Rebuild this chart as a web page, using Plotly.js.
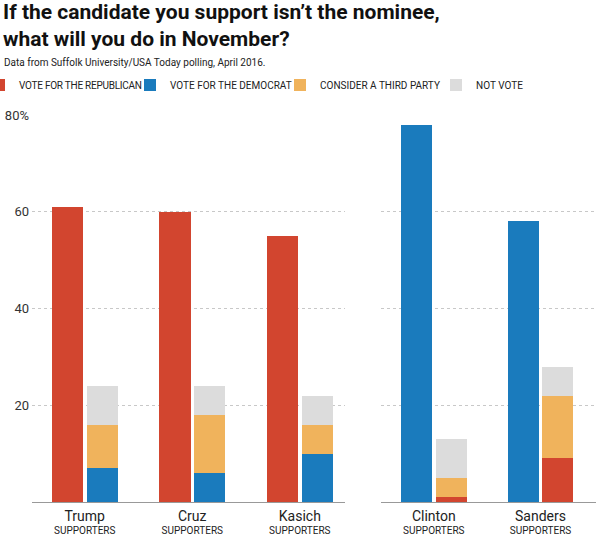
<!DOCTYPE html>
<html>
<head>
<meta charset="utf-8">
<script src="https://cdn.plot.ly/plotly-3.0.1.min.js"></script>
<style>
html,body{margin:0;padding:0;background:#fff}
#chart{width:600px;height:537px}
#chart .legendtext{letter-spacing:-0.25px}
</style>
</head>
<body>
<div id="chart"></div>
<script>
// Republican candidates' supporters
const repCandidates = ["Trump", "Cruz", "Kasich"];
const repVoteRepublican = [61, 60, 55];
const repVoteDemocrat = [7, 6, 10];
const repThirdParty = [9, 12, 6];
const repNotVote = [8, 6, 6];

// Democratic candidates' supporters
const demCandidates = ["Clinton", "Sanders"];
const demVoteDemocrat = [78, 58];
const demVoteRepublican = [1, 9];
const demThirdParty = [4, 13];
const demNotVote = [8, 6];

const yTicks = [20, 40, 60, 80];
const yTickLabels = ["20", "40", "60", "80%"];

const RED = "#d2452f", BLUE = "#1a7bbd", ORANGE = "#f0b35c", GRAY = "#dcdcdc";
const W = 0.29;          // bar width in category units
const OFF_BIG = -0.305;  // offset of own-party bar
const OFF_STACK = 0.017; // offset of stacked bar

function add(a, b) { return a.map((v, i) => v + b[i]); }

const traces = [];
function bar(x, y, base, off, color, name, xa, ya, show, leg) {
  traces.push({
    type: "bar", x: x, y: y, base: base, offset: off, width: W,
    marker: {color: color, line: {width: 0}},
    name: name, legendgroup: name, showlegend: show, legend: leg,
    xaxis: xa, yaxis: ya, hoverinfo: "y+name"
  });
}
const zeros3 = repCandidates.map(() => 0);
const zeros2 = demCandidates.map(() => 0);

bar(repCandidates, repVoteRepublican, zeros3, OFF_BIG, RED, "VOTE FOR THE REPUBLICAN", "x", "y", true, "legend");
bar(repCandidates, repVoteDemocrat, zeros3, OFF_STACK, BLUE, "VOTE FOR THE DEMOCRAT", "x", "y", true, "legend2");
bar(repCandidates, repThirdParty, repVoteDemocrat, OFF_STACK, ORANGE, "CONSIDER A THIRD PARTY", "x", "y", true, "legend3");
bar(repCandidates, repNotVote, add(repVoteDemocrat, repThirdParty), OFF_STACK, GRAY, "NOT VOTE", "x", "y", true, "legend4");

bar(demCandidates, demVoteDemocrat, zeros2, OFF_BIG, BLUE, "VOTE FOR THE DEMOCRAT", "x2", "y2", false, "legend2");
bar(demCandidates, demVoteRepublican, zeros2, OFF_STACK, RED, "VOTE FOR THE REPUBLICAN", "x2", "y2", false, "legend");
bar(demCandidates, demThirdParty, demVoteRepublican, OFF_STACK, ORANGE, "CONSIDER A THIRD PARTY", "x2", "y2", false, "legend3");
bar(demCandidates, demNotVote, add(demVoteRepublican, demThirdParty), OFF_STACK, GRAY, "NOT VOTE", "x2", "y2", false, "legend4");

function catLabels(names) {
  return names.map(n => "<span style='font-size:14px'>" + n + "</span><br>SUPPORTERS");
}

const FONT = "Roboto, 'Liberation Sans', sans-serif";
const ML = 32, MT = 115, PW = 564, PH = 387;

const yCommon = {
  range: [0, 80], tickvals: yTicks, ticktext: yTickLabels,
  showgrid: true, gridcolor: "#c8c8c8", griddash: "dot", gridwidth: 1,
  zeroline: false, showline: false, ticks: "", fixedrange: true
};
const xCommon = {
  type: "category", showline: true, linecolor: "#999", linewidth: 1,
  ticks: "", showgrid: false, zeroline: false, fixedrange: true,
  tickfont: {size: 10, color: "#222", family: FONT}, ticklabelstandoff: 6
};

function legendAt(px) {
  return {
    orientation: "h", xanchor: "left", x: (px - ML) / PW,
    y: 1 + (MT - 85) / PH, yanchor: "middle",
    bgcolor: "rgba(0,0,0,0)",
    font: {size: 10, color: "#222", family: FONT},
    itemclick: false, itemdoubleclick: false
  };
}

const layout = {
  width: 600, height: 537,
  margin: {l: ML, r: 4, t: MT, b: 35, autoexpand: false},
  paper_bgcolor: "#fff", plot_bgcolor: "#fff",
  font: {family: FONT, color: "#333"},
  barmode: "overlay",
  bargap: 0,
  title: {
    text: "<b>If the candidate you support isn’t the nominee,<br>what will you do in November?</b>",
    x: 0.005, xanchor: "left", yref: "container", y: 0.965, yanchor: "top",
    font: {size: 21, color: "#111", family: FONT}
  },
  annotations: [{
    text: "Data from Suffolk University/USA Today polling, April 2016.",
    xref: "paper", yref: "paper", x: (2 - ML) / PW, xanchor: "left",
    y: 1 + (MT - 62) / PH, yanchor: "middle",
    showarrow: false, font: {size: 10, color: "#222", family: FONT}
  }],
  legend: legendAt(-21),
  legend2: legendAt(130),
  legend3: legendAt(280),
  legend4: legendAt(436),
  xaxis: Object.assign({}, xCommon, {
    domain: [0, 313 / PW], range: [-0.49, 2.42],
    tickvals: repCandidates, ticktext: catLabels(repCandidates), anchor: "y"
  }),
  yaxis: Object.assign({}, yCommon, {
    anchor: "x", showticklabels: true,
    tickfont: {size: 13, color: "#333", family: FONT}, ticklabelstandoff: 2
  }),
  xaxis2: Object.assign({}, xCommon, {
    domain: [349 / PW, 1], range: [-0.495, 1.52],
    tickvals: demCandidates, ticktext: catLabels(demCandidates), anchor: "y2"
  }),
  yaxis2: Object.assign({}, yCommon, {anchor: "x2", showticklabels: false})
};

Plotly.newPlot("chart", traces, layout, {displayModeBar: false, staticPlot: true});
</script>
</body>
</html>
